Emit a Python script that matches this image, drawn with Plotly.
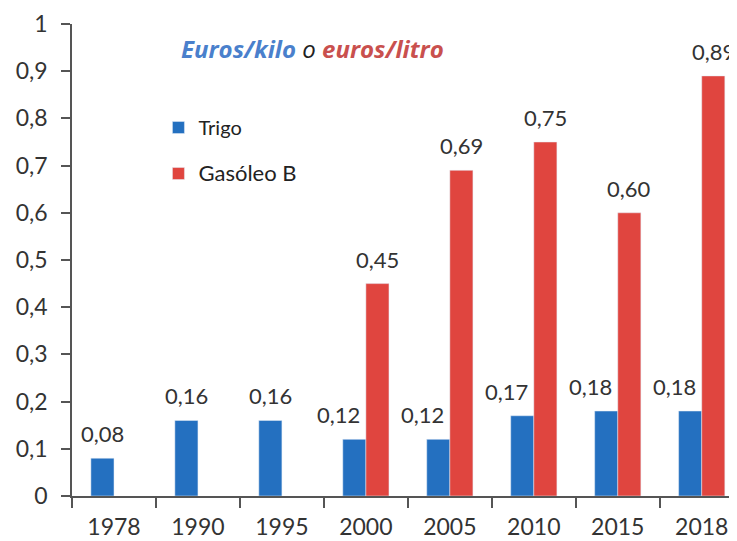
import plotly.graph_objects as go

years = ["1978", "1990", "1995", "2000", "2005", "2010", "2015", "2018"]
trigo = [0.08, 0.16, 0.16, 0.12, 0.12, 0.17, 0.18, 0.18]
gasoleo = [None, None, None, 0.45, 0.69, 0.75, 0.60, 0.89]

BLUE = "#2470c0"
RED = "#e0453f"
TXT = "#333333"
AXIS = "#555555"

fig = go.Figure()
fig.add_trace(go.Bar(x=years, y=trigo, name="Trigo", marker_color=BLUE,
                     legendgroup="a"))
fig.add_trace(go.Bar(x=years, y=gasoleo, name="<span style='font-size:22px'>Gasóleo B</span>",
                     marker_color=RED, legendgroup="b"))

# value labels above each bar (x as category index)
for i, (t, g) in enumerate(zip(trigo, gasoleo)):
    # wheat label is nudged left when a red bar stands next to it
    fig.add_annotation(x=i, y=t, xref="x", yref="y",
                       text=f"{t:.2f}".replace(".", ","),
                       showarrow=False, yanchor="bottom",
                       xshift=-11.5 if g is None else -27, yshift=9,
                       font=dict(family="Lato", size=22, color=TXT))
    if g is not None:
        fig.add_annotation(x=i, y=g, xref="x", yref="y",
                           text=f"{g:.2f}".replace(".", ","),
                           showarrow=False, yanchor="bottom", xshift=11.5, yshift=9,
                           font=dict(family="Lato", size=22, color=TXT))

fig.add_annotation(
    xref="paper", yref="paper", x=0.361, y=0.949, xanchor="center", yanchor="middle",
    showarrow=False,
    text="<b><i><span style='color:#4a80cc'>Euros/kilo</span></i></b>"
         "<i><span style='color:#222'> o </span></i>"
         "<b><i><span style='color:#c9504e'>euros/litro</span></i></b>",
    font=dict(family="Open Sans", size=24))

# page body adds an 8px offset, so the figure is sized to fit the window
fig.update_layout(
    width=729, height=533,
    margin=dict(l=64, r=0, t=16, b=45),
    paper_bgcolor="white", plot_bgcolor="white",
    separators=",.",
    barmode="group", bargap=0.45, bargroupgap=0,
    font=dict(family="Lato", size=23, color=TXT),
    showlegend=True,
    legend=dict(x=0.13, y=0.822, xanchor="left", yanchor="top",
                font=dict(family="Lato", size=20, color="#222"),
                tracegroupgap=17, bgcolor="rgba(0,0,0,0)"),
    xaxis=dict(type="category", range=[-0.5, 7.42], showline=True, linecolor=AXIS,
               linewidth=1.5, ticks="outside", tickson="boundaries", ticklen=10,
               tickcolor=AXIS, tickwidth=1.5, showgrid=False, ticklabelstandoff=10,
               automargin=False),
    yaxis=dict(range=[0, 1], dtick=0.1, showline=True, linecolor=AXIS, linewidth=1.5,
               ticks="outside", ticklen=9, tickcolor=AXIS, tickwidth=1.5,
               showgrid=False, zeroline=False, ticklabelstandoff=9, automargin=False),
)

fig.write_html("out.html")
